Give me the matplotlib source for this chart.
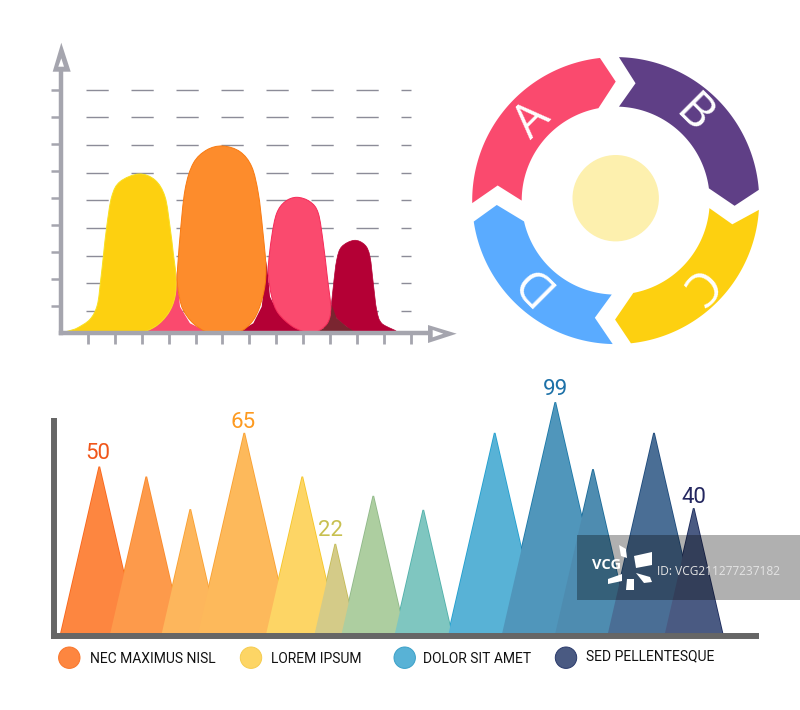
import numpy as np
import matplotlib
matplotlib.use("Agg")
import matplotlib.pyplot as plt
from matplotlib.path import Path
from matplotlib.patches import PathPatch, Polygon, Circle, Rectangle

W, H = 800, 710

# top left chart: outlines of the humps, (x, y) from the origin of the axes
yellow_x = [4, 15.7, 29, 36.3, 39.7, 42.3, 45.7, 50.7, 59, 78, 94, 104, 109, 112.3, 115, 114, 107.3, 94, 75.7, 40]
yellow_y = [0, 4.7, 13.7, 28, 53, 76.3, 106.3, 136.3, 151.3, 159, 153, 136.3, 106.3, 79.7, 56.3, 36.3, 19.7, 6.3, 0, -1]
orange_x = [118.3, 116.3, 119, 124, 132.3, 145.7, 161.7, 179, 190.7, 197.3, 201.7, 205, 201.7, 192.3, 175.7, 149, 132.3, 122.3]
orange_y = [36.3, 56.3, 96.3, 143, 169.7, 183, 187, 181.3, 166.3, 139.7, 103, 63, 36.3, 13, 0, 0, 9.7, 23]
pink_x = [207.3, 210.7, 215.7, 224, 235.7, 249, 257.3, 262.3, 266.3, 269.7, 267.3, 259, 249, 232.3, 217.3, 210.7]
pink_y = [63, 96.3, 119.7, 131.3, 135.7, 131.3, 119.7, 89.7, 56.3, 26.3, 11.3, 3, 0, 6, 19.7, 36.3]
crimson_x = [270.7, 272.3, 275.7, 280.7, 293.3, 304, 309, 312.3, 315.7, 320.7, 335.7, 295.7, 285.7, 275.7]
crimson_y = [24.7, 46.3, 73, 86.3, 92.7, 88, 76.3, 49.7, 23, 9.7, 0, 0, 6.3, 14.7]
tail1_x = [75.7, 94, 107.3, 114, 115.7, 119, 129, 149]
tail1_y = [0, 6.3, 19.7, 39.7, 62, 26.3, 9.7, 0]
tail2_x = [175.7, 192.3, 200.7, 205.7, 209, 217.3, 232.3, 249]
tail2_y = [0, 9.7, 26.3, 72, 36.3, 19.7, 6, 0]
tail3_x = [252.3, 262.3, 269, 270.7, 275.7, 285.7, 295.7]
tail3_y = [0, 4.7, 16.3, 28, 14.7, 6.3, 0]
grid_y = [22, 49.7, 77.3, 105, 132.7, 160.3, 188, 215.7, 243.3]
x_ticks = [26.9 * i for i in range(1, 14)]
y_ticks = [27 * i for i in range(1, 10)]

# donut, angles in degrees
ring_labels = ["A", "B", "C", "D"]
ring_colors = ["#fa4a6e", "#5f3f86", "#fdd010", "#5aabff"]
outer_start = [181, 88.7, -3.7, -91.2]
outer_end = [96.3, 4.3, -83.9, -171.6]
tip_angle = [90, -2.5, -90.3, -177.9]
inner_end = [100.6, 7.5, -79.2, -167.2]
inner_start = [180, 88, -4.6, -92.4]
notch_angle = [172.7, 80.4, -11.5, -100.1]
label_angle = [136, 47.8, -46.7, -136]
label_rot = [45, -45, -135, 135]

# bottom chart
peak_x = [99.3, 146.3, 190.3, 244.3, 302.3, 335.3, 373.3, 423.3, 494.7, 555.3, 593, 654, 693.7]
peak_h = [166.3, 156.3, 123.7, 200, 156.3, 89, 137, 123, 200, 230.7, 163.7, 200, 124.7]
peak_colors = ["#fd8640", "#fd9a4b", "#fdb65c", "#fdb95b", "#fdd565", "#d4cb88", "#adcea0",
               "#7fc6c0", "#58b2d6", "#5096bb", "#4e8cb0", "#4a6e95", "#4a5a82"]
peak_edges = ["#f9651a", "#f98a2a", "#f9a030", "#f9a030", "#f5c525", "#c4bb55", "#8fb888",
              "#4fb0aa", "#1f9fcf", "#1a78a8", "#1a6a98", "#1d4a7c", "#1c2a5c"]
value_labels = ["50", "65", "22", "99", "40"]
value_x = [97.3, 242.7, 330.7, 555, 694.3]
value_y = [179.8, 210.8, 102.8, 243.2, 135.8]
value_colors = ["#f0561a", "#fd9a20", "#c8c050", "#1d71a8", "#23265f"]
legend_names = ["NEC MAXIMUS NISL", "LOREM IPSUM", "DOLOR SIT AMET", "SED PELLENTESQUE"]
legend_circle_x = [69.3, 251, 404.7, 566]
legend_text_x = [90, 270.7, 422.7, 586.3]
legend_text_y = [-25.7, -25.7, -25.7, -23]
legend_colors = ["#fd8640", "#fdd565", "#58b2d6", "#4a5a82"]
legend_edges = ["#f9752a", "#f5cc50", "#3aa0c8", "#2a3a6c"]


def px_axes(left, top, right, bottom):
    return plt.axes([left / W, (H - bottom) / H, (right - left) / W, (bottom - top) / H])


def smooth_closed(xs, ys):
    # catmull-rom through the outline points, as bezier segments
    pts = np.column_stack([xs, ys])
    n = len(pts)
    verts = [pts[0]]
    codes = [Path.MOVETO]
    for i in range(n):
        p0, p1, p2, p3 = pts[i - 1], pts[i], pts[(i + 1) % n], pts[(i + 2) % n]
        verts += [p1 + (p2 - p0) / 6, p2 - (p3 - p1) / 6, p2]
        codes += [Path.CURVE4] * 3
    return Path(verts, codes)


def arc(r, a, b):
    t = np.radians(np.linspace(a, b, 80))
    return np.column_stack([r * np.cos(t), r * np.sin(t)])


def polar(r, a):
    return [r * np.cos(np.radians(a)), r * np.sin(np.radians(a))]


fig = plt.figure(figsize=(W / 100, H / 100), dpi=100, facecolor="white")

# ---- humps
ax1 = px_axes(61, 40, 460, 333)
ax1.set_xlim(0, 399)
ax1.set_ylim(0, 293)
ax1.patch.set_visible(False)
axis_color = "#a5a5ae"
for name in ("top", "right"):
    ax1.spines[name].set_visible(False)
for name in ("left", "bottom"):
    ax1.spines[name].set_color(axis_color)
    ax1.spines[name].set_linewidth(3.2)
    ax1.spines[name].set_zorder(8)
ax1.spines["left"].set_bounds(0, 262)
ax1.spines["bottom"].set_bounds(0, 367)
ax1.set_xticks(x_ticks)
ax1.set_yticks(y_ticks)
ax1.set_xticklabels([])
ax1.set_yticklabels([])
ax1.tick_params(axis="x", length=8, width=2, color=axis_color, pad=0)
ax1.tick_params(axis="y", length=7, width=1.8, color=axis_color, pad=0)

for gy in grid_y:
    ax1.plot([24.7, 350.3], [gy, gy], color="#8c8c98", lw=1, dashes=(16, 16.4),
             dash_capstyle="butt", zorder=1)

for xs, ys, col in [(tail1_x, tail1_y, "#fa4a6e"), (tail2_x, tail2_y, "#b40035")]:
    ax1.add_patch(Polygon(np.column_stack([xs, ys]), closed=True, fc=col, ec="none", zorder=2))
ax1.add_patch(PathPatch(smooth_closed(crimson_x, crimson_y), fc="#b40035", ec="#b40035", lw=0.5, zorder=2.5))
ax1.add_patch(Polygon(np.column_stack([tail3_x, tail3_y]), closed=True, fc="#7a2530", ec="none", zorder=2.6))
ax1.add_patch(PathPatch(smooth_closed(yellow_x, yellow_y), fc="#fdd010", ec="#f8e020", lw=0.7, zorder=3))
ax1.add_patch(PathPatch(smooth_closed(orange_x, orange_y), fc="#fd8c2c", ec="#f97a10", lw=0.7, zorder=4))
ax1.add_patch(PathPatch(smooth_closed(pink_x, pink_y), fc="#fa4a6e", ec="#f52a58", lw=0.7, zorder=4))

# arrow heads: grey triangle with a small white one inside
ax1.add_patch(Polygon([[-8.3, 261.3], [0.3, 290.3], [9.7, 261.3]], closed=True, fc=axis_color,
                      ec="none", clip_on=False, zorder=9))
ax1.add_patch(Polygon([[-2.7, 266.3], [0.3, 274.7], [3, 266.3]], closed=True, fc="white",
                      ec="none", clip_on=False, zorder=10))
ax1.add_patch(Polygon([[367, 8], [395.7, -0.7], [367, -10]], closed=True, fc=axis_color,
                      ec="none", clip_on=False, zorder=9))
ax1.add_patch(Polygon([[371.7, 3], [382.3, -0.7], [371.7, -4.3]], closed=True, fc="white",
                      ec="none", clip_on=False, zorder=10))

# ---- donut
ax2 = px_axes(455.7, 40.6, 775.7, 360.6)
ax2.set_xlim(-160, 160)
ax2.set_ylim(-160, 160)
ax2.axis("off")
R_OUT, R_IN, R_MID = 143.5, 94, 119
for i, lab in enumerate(ring_labels):
    verts = list(arc(R_OUT, outer_start[i], outer_end[i]))
    verts.append(polar(R_MID, tip_angle[i]))
    verts += list(arc(R_IN, inner_end[i], inner_start[i]))
    verts.append(polar(R_MID, notch_angle[i]))
    ax2.add_patch(Polygon(verts, closed=True, fc=ring_colors[i], ec="none"))
    tx, ty = polar(116, label_angle[i])
    ax2.text(tx, ty, lab, color="white", fontsize=34, family="Open Sans", rotation=label_rot[i],
             rotation_mode="anchor", ha="center", va="center")
ax2.add_patch(Circle((0, 2.4), 43.2, fc="#fdf0ae", ec="none"))

# ---- triangles
ax3 = px_axes(40, 375, 800, 690)
ax3.set_xlim(40, 800)
ax3.set_ylim(-57, 258)
ax3.patch.set_visible(False)
ax3.set_xticks([])
ax3.set_yticks([])
for name in ("top", "right"):
    ax3.spines[name].set_visible(False)
for name in ("left", "bottom"):
    ax3.spines[name].set_color("#666666")
    ax3.spines[name].set_linewidth(4.3)
    ax3.spines[name].set_capstyle("butt")
    ax3.spines[name].set_zorder(6)
ax3.spines["left"].set_position(("data", 54))
ax3.spines["left"].set_bounds(-6, 215)
ax3.spines["bottom"].set_position(("data", -3))
ax3.spines["bottom"].set_bounds(51, 758.7)

# outlines go under all the fills, so only the outer edge of the group shows
for x, h, col, edge in zip(peak_x, peak_h, peak_colors, peak_edges):
    hw = 0.23 * h
    ax3.fill([x - hw, x, x + hw], [0, h, 0], fc="none", ec=edge, lw=1.2, zorder=1)
    ax3.fill([x - hw, x, x + hw], [0, h, 0], fc=col, ec="none", zorder=2)

for txt, x, y, col in zip(value_labels, value_x, value_y, value_colors):
    ax3.text(x, y, txt, color=col, fontsize=16, family="Roboto", ha="center", va="center")

for name, cx, tx, ty, col, edge in zip(legend_names, legend_circle_x, legend_text_x, legend_text_y,
                                       legend_colors, legend_edges):
    ax3.add_patch(Circle((cx, -24.7), 10.7, fc=col, ec=edge, lw=0.7))
    ax3.text(tx, ty, name, color="#111111", fontsize=10, family="Roboto", ha="left", va="center")

# stock watermark band across the lower right
ax3.add_patch(Rectangle((577, 33), 223, 65, fc="black", alpha=0.31, ec="none", zorder=10))
ax3.text(606.7, 68, "VCG", color="white", fontsize=10.5, fontweight="bold", family="Open Sans",
         ha="center", va="center", zorder=11)
ax3.text(656.7, 61.5, "ID: VCG211277237182", color="#e4e4e4", fontsize=8.6, family="Open Sans",
         ha="left", va="center", zorder=11)
for verts in ([[619, 88], [626, 84], [627, 75], [621, 77]],
              [[634, 77], [652, 81], [652, 68], [636, 65]],
              [[636, 60], [650, 56], [652, 51], [644, 50]],
              [[627, 54], [634, 54], [634, 43], [626, 43]],
              [[608, 54], [622, 59], [622, 52], [608, 49]]):
    ax3.add_patch(Polygon(verts, closed=True, fc="white", ec="none", zorder=11))

fig.savefig("out.png", dpi=100, facecolor="white")
